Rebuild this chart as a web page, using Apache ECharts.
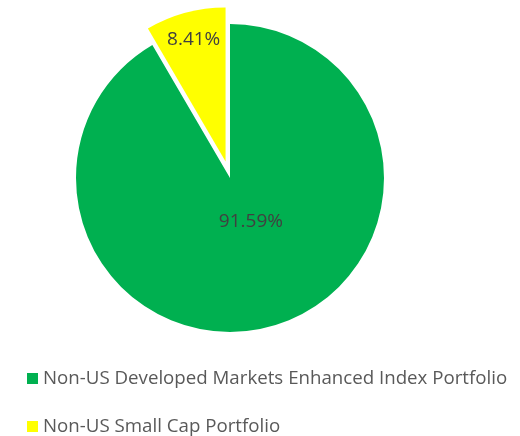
<!DOCTYPE html>
<html>
<head>
<meta charset="utf-8">
<script src="https://cdn.jsdelivr.net/npm/echarts@6/dist/echarts.min.js"></script>
<style>
  html, body { margin: 0; padding: 0; background: #fff; }
  #main { width: 520px; height: 436px; }
</style>
</head>
<body>
<div id="main"></div>
<script>
// portfolio weights (%)
var names = ['Non-US Developed Markets Enhanced Index Portfolio', 'Non-US Small Cap Portfolio'];
var values = [91.59, 8.41];
var colors = ['#00B050', '#FFFF00'];
var labelShift = [[0, -34], [-11, -45]];

var chart = echarts.init(document.getElementById('main'));

var pieData = [];
for (var i = 0; i < names.length; i++) {
  pieData.push({
    name: names[i],
    value: values[i],
    selected: i === 1,
    itemStyle: { color: colors[i] },
    label: { offset: labelShift[i] },
    select: { label: { offset: labelShift[i] }, itemStyle: { color: colors[i] } }
  });
}

var option = {
  animation: false,
  legend: {
    orient: 'vertical',
    left: 27,
    top: 369,
    height: 100,
    padding: 0,
    itemWidth: 11,
    itemHeight: 11,
    itemGap: 29,
    icon: 'rect',
    textStyle: { fontFamily: 'Open Sans', fontSize: 18.7, color: '#595959' },
    data: names
  },
  series: [{
    type: 'pie',
    center: [230, 178],
    radius: 154,
    startAngle: 90,
    clockwise: true,
    selectedMode: 'single',
    selectedOffset: 17,
    label: {
      show: true,
      position: 'inside',
      formatter: function (p) { return p.value.toFixed(2) + '%'; },
      fontFamily: 'Open Sans',
      fontSize: 19,
      color: '#404040'
    },
    labelLine: { show: false },
    emphasis: { disabled: true },
    data: pieData
  }]
};
chart.setOption(option);
</script>
</body>
</html>
